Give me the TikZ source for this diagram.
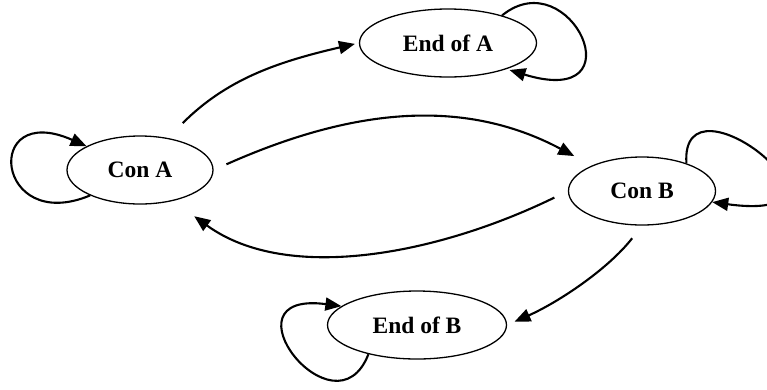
\documentclass[tikz,border=0pt]{standalone}
\usepackage{fontspec}
\setmainfont{Liberation Serif}
\usetikzlibrary{shapes.geometric,arrows.meta}
\begin{document}
\begin{tikzpicture}[x=1pt,y=-1pt,
  state/.style={draw,ellipse,line width=1.3pt,inner sep=0pt,minimum height=68pt,
    font=\fontsize{23.5}{27}\selectfont\bfseries},
  arr/.style={line width=2.1pt,-{Triangle[length=16pt,width=13pt]}}]
\useasboundingbox (0,0) rectangle (767,389);

% states
\node[state,minimum width=146pt] (conA) at (140,170) {Con A};
\node[state,minimum width=177pt] (endA) at (448,43)  {End of A};
\node[state,minimum width=147pt] (conB) at (642,191) {Con B};
\node[state,minimum width=179pt] (endB) at (417,325) {End of B};

% transitions between states
\draw[arr,shorten <=21pt,shorten >=4pt] (conA.49) to[out=45,in=193] (endA.west);
\draw[arr,shorten <=14pt,shorten >=20pt] (conA.east) to[out=24,in=152] (conB.153);
\draw[arr,shorten <=15pt,shorten >=26pt] (conB.west) to[out=206,in=324,looseness=0.92] (conA.-43);
\draw[arr,shorten <=16pt,shorten >=8pt] (conB.south) to[out=232,in=24,looseness=0.85] (endB.east);

% self loops
\draw[arr] (conA.207) .. controls (-5,235) and (-18,100) .. (conA.156);
\draw[arr,shorten >=3pt] (endA.27) .. controls (570,-40) and (640,110) .. (endA.-24);
\draw[arr] (conB.32) .. controls (680,65) and (880,225) .. (conB.-9);
\draw[arr] (endB.211) .. controls (335,440) and (218,290) .. (endB.166);
\end{tikzpicture}
\end{document}
